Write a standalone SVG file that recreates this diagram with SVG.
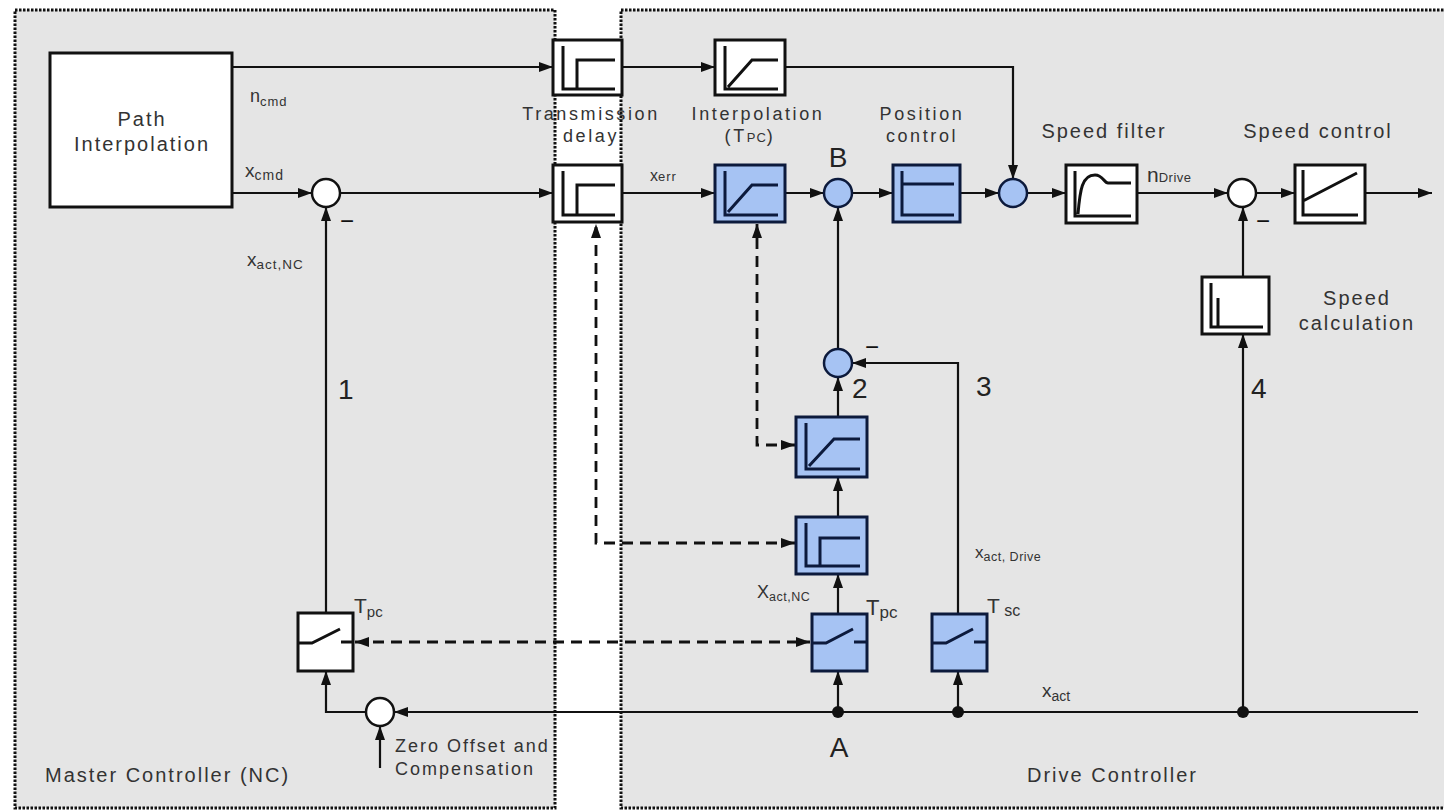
<svg xmlns="http://www.w3.org/2000/svg" width="1444" height="811" viewBox="0 0 1444 811">
<style>
text{font-family:"Liberation Sans",Arial,sans-serif;fill:#333}
.lbl{font-size:20px;letter-spacing:2px}
.lbl2{font-size:18px;letter-spacing:2.6px}
.num{font-size:28px;fill:#222}
.mn{font-size:24px;fill:#111;text-anchor:middle}
.blk{stroke:#111;stroke-width:3}
.wb{fill:#fff}
.bb{fill:#a6c3f3;stroke:#0c1a3c}
.ic{fill:none;stroke:#111;stroke-width:3}
.icb{fill:none;stroke:#0c1a3c;stroke-width:3}
.ln{fill:none;stroke:#111;stroke-width:2.2}
.dl{fill:none;stroke:#111;stroke-width:2.8;stroke-dasharray:11 7}
.panel{fill:#e5e5e5;stroke:#111;stroke-width:3;stroke-dasharray:2.5 1.5}
</style>
<defs>
<marker id="ah" viewBox="0 0 14 10" refX="14" refY="5" markerWidth="14" markerHeight="10" markerUnits="userSpaceOnUse" orient="auto-start-reverse">
<path d="M0,0 L14,5 L0,10 z" fill="#111"/>
</marker>
</defs>
<rect width="1444" height="811" fill="#fff"/>
<g id="panels">
<rect class="panel" x="15" y="10" width="540" height="798"/>
<rect class="panel" x="621" y="10" width="830" height="798"/>
</g>
<g id="connectors">
<path class="ln" d="M232,67 H553" marker-end="url(#ah)"/>
<path class="ln" d="M622,67 H715" marker-end="url(#ah)"/>
<path class="ln" d="M785,67 H1013 V179" marker-end="url(#ah)"/>
<path class="ln" d="M232,193 H312" marker-end="url(#ah)"/>
<path class="ln" d="M340,193 H553" marker-end="url(#ah)"/>
<path class="ln" d="M622,193 H715" marker-end="url(#ah)"/>
<path class="ln" d="M785,193 H824" marker-end="url(#ah)"/>
<path class="ln" d="M852,193 H893" marker-end="url(#ah)"/>
<path class="ln" d="M960,193 H999" marker-end="url(#ah)"/>
<path class="ln" d="M1027,193 H1066" marker-end="url(#ah)"/>
<path class="ln" d="M1137,193 H1228" marker-end="url(#ah)"/>
<path class="ln" d="M1256,193 H1295" marker-end="url(#ah)"/>
<path class="ln" d="M1365,193 H1432" marker-end="url(#ah)"/>
<path class="ln" d="M326,613 V207" marker-end="url(#ah)"/>
<path class="ln" d="M1418,712 H394" marker-end="url(#ah)"/>
<path class="ln" d="M366,712 H326 V671" marker-end="url(#ah)"/>
<path class="ln" d="M380,768 V726" marker-end="url(#ah)"/>
<path class="ln" d="M838,712 V671" marker-end="url(#ah)"/>
<path class="ln" d="M958,712 V671" marker-end="url(#ah)"/>
<path class="ln" d="M1243,712 V334" marker-end="url(#ah)"/>
<path class="ln" d="M1243,277 V207" marker-end="url(#ah)"/>
<path class="ln" d="M838,614 V574" marker-end="url(#ah)"/>
<path class="ln" d="M838,517 V477" marker-end="url(#ah)"/>
<path class="ln" d="M838,417 V377" marker-end="url(#ah)"/>
<path class="ln" d="M838,349 V207" marker-end="url(#ah)"/>
<path class="ln" d="M958,614 V363 H852" marker-end="url(#ah)"/>
<path class="dl" d="M355,642 H810" marker-start="url(#ah)" marker-end="url(#ah)"/>
<path class="dl" d="M795,543 H596 V224" marker-start="url(#ah)" marker-end="url(#ah)"/>
<path class="dl" d="M795,445 H757 V224" marker-start="url(#ah)" marker-end="url(#ah)"/>
<circle cx="838" cy="712" r="6" fill="#111"/>
<circle cx="958" cy="712" r="6" fill="#111"/>
<circle cx="1243" cy="712" r="6" fill="#111"/>
</g>
<g id="path-interp">
<rect class="blk wb" x="50" y="53" width="182" height="154"/>
<text class="lbl" x="142" y="126" text-anchor="middle">Path</text>
<text class="lbl" x="142" y="151" text-anchor="middle">Interpolation</text>
</g>
<g id="delay-top">
<rect class="blk wb" x="553" y="40" width="69" height="55"/>
<path class="ic" d="M563,46 V89 H615 M577,89 V60 H615"/>
</g>
<g id="delay-mid">
<rect class="blk wb" x="553" y="165" width="69" height="57"/>
<path class="ic" d="M563,171 V215 H615 M577,215 V185 H615"/>
</g>
<g id="interp-top">
<rect class="blk wb" x="715" y="40" width="70" height="55"/>
<path class="ic" d="M725,46 V89 H778 M728,87 L752,60 H778"/>
</g>
<g id="interp-mid">
<rect class="blk bb" x="715" y="165" width="70" height="57"/>
<path class="icb" d="M725,171 V215 H778 M728,212 L752,185 H778"/>
</g>
<g id="sum-B">
<circle cx="838" cy="193" r="14" fill="#a6c3f3" stroke="#0c1a3c" stroke-width="2.5"/>
<text x="838" y="167" text-anchor="middle" style="font-size:28px;fill:#222">B</text>
</g>
<g id="pos-ctrl">
<rect class="blk bb" x="893" y="165" width="67" height="57"/>
<path class="icb" d="M902,171 V215 H954 M902,184 H954"/>
</g>
<g id="sum-n">
<circle cx="1013" cy="193" r="14" fill="#a6c3f3" stroke="#0c1a3c" stroke-width="2.5"/>
</g>
<g id="speed-filter">
<rect class="blk wb" x="1066" y="165" width="71" height="58"/>
<path class="ic" d="M1075,171 V216 H1131 M1078,214 C1080,190 1082,175 1095,175 C1103,175 1104,183 1108,183 H1131"/>
</g>
<g id="sum-speed">
<circle cx="1242" cy="193" r="14" fill="#fff" stroke="#111" stroke-width="2.5"/>
</g>
<g id="speed-ctrl">
<rect class="blk wb" x="1295" y="165" width="70" height="58"/>
<path class="ic" d="M1303,170 V215 H1358 M1303,201 L1357,173"/>
</g>
<g id="speed-calc">
<rect class="blk wb" x="1202" y="277" width="67" height="57"/>
<path class="ic" d="M1211,283 V327 H1263 M1218,298 V327"/>
</g>
<g id="sum-x">
<circle cx="326" cy="193" r="14" fill="#fff" stroke="#111" stroke-width="2.5"/>
</g>
<g id="sum-2">
<circle cx="838" cy="363" r="14" fill="#a6c3f3" stroke="#0c1a3c" stroke-width="2.5"/>
</g>
<g id="interp-low">
<rect class="blk bb" x="796" y="417" width="71" height="60"/>
<path class="icb" d="M806,423 V469 H860 M809,466 L834,439 H860"/>
</g>
<g id="delay-low">
<rect class="blk bb" x="796" y="517" width="71" height="57"/>
<path class="icb" d="M806,523 V566 H860 M820,566 V538 H860"/>
</g>
<g id="switch-nc">
<rect class="blk wb" x="298" y="613" width="55" height="58"/>
<path class="ic" d="M298,643 H312 L340,629 M341,642 H353"/>
</g>
<g id="switch-pc">
<rect class="blk bb" x="812" y="614" width="55" height="57"/>
<path class="icb" d="M812,643 H826 L853,629 M854,642 H867"/>
</g>
<g id="switch-sc">
<rect class="blk bb" x="932" y="614" width="55" height="57"/>
<path class="icb" d="M932,643 H946 L973,629 M974,642 H987"/>
</g>
<g id="sum-zero">
<circle cx="380" cy="712" r="14" fill="#fff" stroke="#111" stroke-width="2.5"/>
</g>
<g id="labels">
<text x="250" y="102" style="font-size:18px">n<tspan dy="4" style="font-size:13px;letter-spacing:1px">cmd</tspan></text>
<text x="245" y="177" style="font-size:19px">x<tspan dy="3" style="font-size:14px;letter-spacing:1px">cmd</tspan></text>
<text x="247" y="266" style="font-size:19px">x<tspan dy="3" style="font-size:13.5px;letter-spacing:1px">act,NC</tspan></text>
<text class="mn" x="347" y="229">−</text>
<text class="num" x="338" y="399">1</text>
<text class="lbl2" x="591" y="120" text-anchor="middle">Transmission</text>
<text class="lbl2" x="591" y="142" text-anchor="middle">delay</text>
<text class="lbl2" x="758" y="120" text-anchor="middle">Interpolation</text>
<text class="lbl2" x="750" y="142" text-anchor="middle">(T<tspan style="font-size:13px;letter-spacing:1px">PC</tspan>)</text>
<text class="lbl2" x="922" y="120" text-anchor="middle">Position</text>
<text class="lbl2" x="922" y="142" text-anchor="middle">control</text>
<text x="650" y="181" style="font-size:16px">x<tspan style="font-size:13px;letter-spacing:1px">err</tspan></text>
<text class="lbl" x="1104" y="138" text-anchor="middle">Speed filter</text>
<text class="lbl" x="1318" y="138" text-anchor="middle">Speed control</text>
<text x="1147" y="182" style="font-size:21px">n<tspan style="font-size:13px;letter-spacing:0.5px">Drive</tspan></text>
<text class="mn" x="1263" y="229">−</text>
<text class="lbl" x="1357" y="305" text-anchor="middle">Speed</text>
<text class="lbl" x="1357" y="330" text-anchor="middle">calculation</text>
<text class="num" x="1251" y="398">4</text>
<text class="num" x="976" y="396">3</text>
<text class="num" x="852" y="398">2</text>
<text class="mn" x="872" y="355">−</text>
<text x="975" y="558" style="font-size:17px">x<tspan dy="3" style="font-size:12.5px;letter-spacing:0.5px">act, Drive</tspan></text>
<text x="757" y="598" style="font-size:18px">X<tspan dy="3" style="font-size:12.5px;letter-spacing:0.5px">act,NC</tspan></text>
<text x="866" y="615" style="font-size:22px">T<tspan dy="3" style="font-size:17px">pc</tspan></text>
<text x="354" y="613" style="font-size:21px">T<tspan dy="4" style="font-size:15px">pc</tspan></text>
<text x="987" y="613" style="font-size:21px">T<tspan dy="3" style="font-size:16px"> sc</tspan></text>
<text x="1042" y="697" style="font-size:19px">x<tspan dy="4" style="font-size:14px">act</tspan></text>
<text x="839" y="757" style="font-size:28px;fill:#222" text-anchor="middle">A</text>
<text x="395" y="752" style="font-size:18px;letter-spacing:2px">Zero Offset and</text>
<text x="395" y="775" style="font-size:18px;letter-spacing:2px">Compensation</text>
<text class="lbl" x="45" y="782">Master Controller (NC)</text>
<text class="lbl" x="1027" y="782">Drive Controller</text>
</g>
</svg>
